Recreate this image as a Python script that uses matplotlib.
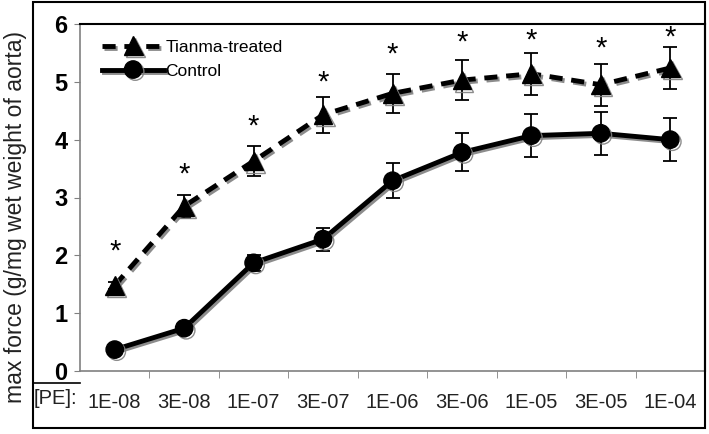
import numpy as np
import matplotlib
matplotlib.use('Agg')
import matplotlib.pyplot as plt
import matplotlib.patheffects as pe
from matplotlib.lines import Line2D
from matplotlib.patches import Rectangle

plt.rcParams['font.family'] = ['Liberation Sans', 'DejaVu Sans']

conc = ['1E-08', '3E-08', '1E-07', '3E-07', '1E-06', '3E-06', '1E-05', '3E-05', '1E-04']
tianma = [1.48, 2.85, 3.63, 4.43, 4.80, 5.03, 5.14, 4.95, 5.24]
tianma_err = [0.06, 0.2, 0.26, 0.31, 0.34, 0.35, 0.36, 0.36, 0.37]
control = [0.37, 0.74, 1.87, 2.28, 3.29, 3.78, 4.07, 4.11, 4.00]
control_err = [0.05, 0.06, 0.14, 0.2, 0.3, 0.33, 0.37, 0.37, 0.37]
star_pos = [2.06, 3.39, 4.22, 4.99, 5.47, 5.68, 5.72, 5.58, 5.77]

x = np.arange(len(conc))

fig = plt.figure(figsize=(7.09, 4.34), dpi=100)
ax = fig.add_axes([80/709, 1-371/434, 625/709, 347/434])

shadow = [pe.SimpleLineShadow(offset=(1.5, -1.5), shadow_color='gray', alpha=0.9), pe.Normal()]

ax.errorbar(x, tianma, yerr=tianma_err, fmt='none', ecolor='black', elinewidth=1.3, capsize=5, capthick=1.3, zorder=2)
ax.errorbar(x, control, yerr=control_err, fmt='none', ecolor='black', elinewidth=1.3, capsize=5, capthick=1.3, zorder=2)

l1, = ax.plot(x, tianma, color='black', lw=3.5, ls=(0, (2.7, 1.8)), marker='^', ms=13.5,
              path_effects=shadow, zorder=3)
l2, = ax.plot(x, control, color='black', lw=3.5, ls='-', marker='o', ms=12.5,
              path_effects=shadow, zorder=3)

for xi, s in zip(x, star_pos):
    ax.text(xi, s, '*', ha='center', va='center', fontsize=21, color='black')

ax.set_xlim(-0.5, 8.5)
ax.set_ylim(0, 6)
ax.set_yticks(range(7))
ax.set_yticklabels([str(i) for i in range(7)], fontsize=17, fontweight='bold')
ax.set_xticks(x)
ax.set_xticklabels(conc, fontsize=14.5, color='#222222')
ax.set_xticks(np.arange(0.5, 8.5, 1), minor=True)
ax.tick_params(axis='x', which='major', length=0, pad=16)
ax.tick_params(axis='x', which='minor', length=5, color='gray', direction='out')
ax.tick_params(axis='y', length=4, color='gray', pad=5)
for s in ['left', 'bottom']:
    ax.spines[s].set_color('gray')
    ax.spines[s].set_linewidth(1.2)
for s in ['top', 'right']:
    ax.spines[s].set_color('black')
    ax.spines[s].set_linewidth(1.5)

ax.legend([l1, l2], ['Tianma-treated', 'Control'], loc='upper left', frameon=False,
          fontsize=12.5, handlelength=3.6, handletextpad=0.05, labelspacing=0.5,
          bbox_to_anchor=(0.01, 1.0))

ax.set_ylabel('max force (g/mg wet weight of aorta)', fontsize=16.5, color='#222222')
ax.yaxis.set_label_coords(-0.085, 0.445)

fig.text(34/709, 1-399/434, '[PE]:', fontsize=14.5, va='center', ha='left', color='#222222')

fig.add_artist(Rectangle((33/709, 1-428/434), 672/709, 426/434, transform=fig.transFigure,
                         fill=False, edgecolor='black', lw=1.5))
fig.add_artist(Line2D([33/709, 80/709], [1-383/434, 1-383/434], transform=fig.transFigure,
                      color='black', lw=1.2))

plt.savefig('out.png', dpi=100)
